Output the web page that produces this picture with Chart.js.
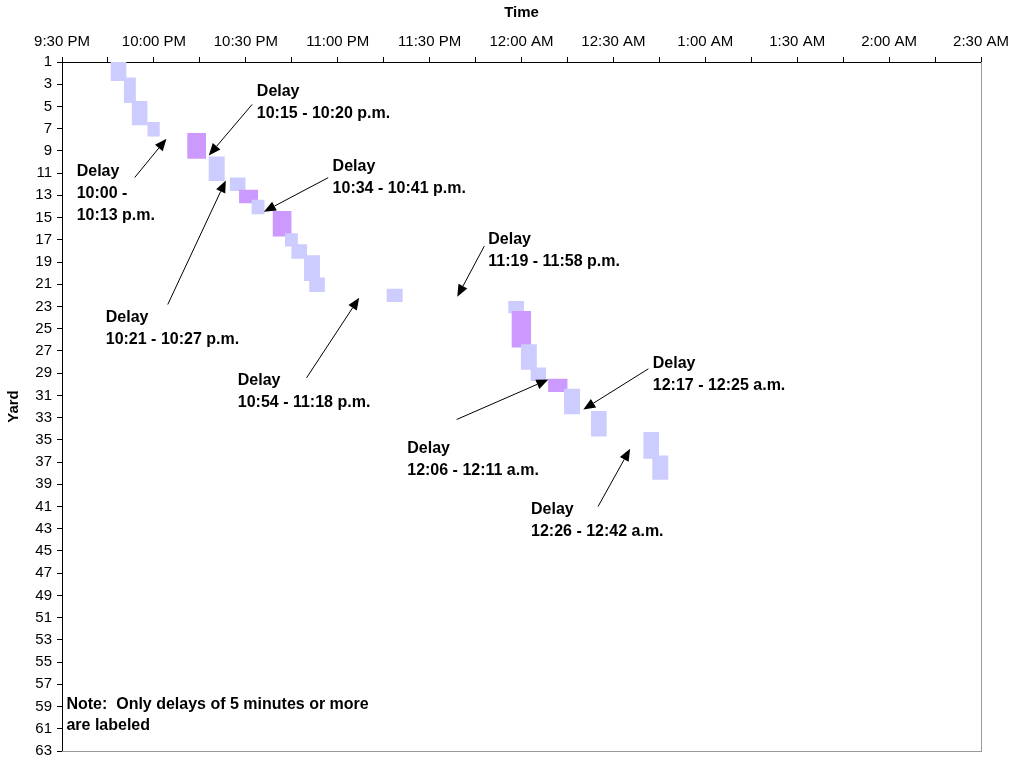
<!DOCTYPE html>
<html><head><meta charset="utf-8">
<script src="https://cdn.jsdelivr.net/npm/chart.js@4/dist/chart.umd.min.js"></script>
<style>html,body{margin:0;padding:0;background:#fff}#wrap{width:1013px;height:761px;position:relative}</style>
</head><body><div id="wrap"><canvas id="c"></canvas></div>
<script>
// ---- data (minutes after 9:30 PM, yard positions) ----
const timeTickLabels = ['9:30 PM','10:00 PM','10:30 PM','11:00 PM','11:30 PM','12:00 AM','12:30 AM','1:00 AM','1:30 AM','2:00 AM','2:30 AM'];
const timeTickMinutes = [0,15,30,45,60,75,90,105,120,135,150,165,180,195,210,225,240,255,270,285,300];
const yardTicks = [1,3,5,7,9,11,13,15,17,19,21,23,25,27,29,31,33,35,37,39,41,43,45,47,49,51,53,55,57,59,61,63];
const startMin = [15.9,20.2,22.8,27.9,40.9,47.9,54.8,57.8,61.9,68.8,72.8,74.9,79.0,80.7,106.0,145.7,146.8,149.8,153.0,158.7,163.9,172.7,189.8,192.7];
const endMin   = [21.0,24.1,27.9,31.9,47.0,53.1,59.9,64.0,66.1,74.9,77.0,80.0,84.2,85.8,111.2,150.8,153.1,155.0,158.0,165.0,169.1,177.8,194.9,197.9];
const yardFrom = [0.4,2.4,4.5,6.4,7.4,9.5,11.4,12.5,13.4,14.4,16.4,17.4,18.4,20.4,21.4,22.5,23.4,26.4,28.5,29.5,30.4,32.4,34.3,36.4];
const yardTo   = [2.7,4.7,6.7,7.7,9.7,11.7,12.6,13.7,14.7,16.7,17.6,18.7,20.7,21.7,22.6,23.6,26.7,28.7,29.7,30.7,32.7,34.7,36.7,38.6];
const isDelay  = [0,0,0,0,1,0,0,1,0,1,0,0,0,0,0,0,1,0,0,1,0,0,0,0];
const labelTexts = [
  ['Delay','10:00 -','10:13 p.m.'],
  ['Delay','10:15 - 10:20 p.m.'],
  ['Delay','10:34 - 10:41 p.m.'],
  ['Delay','10:21 - 10:27 p.m.'],
  ['Delay','10:54 - 11:18 p.m.'],
  ['Delay','11:19 - 11:58 p.m.'],
  ['Delay','12:06 - 12:11 a.m.'],
  ['Delay','12:17 - 12:25 a.m.'],
  ['Delay','12:26 - 12:42 a.m.']
];
const noteText = ['Note:  Only delays of 5 minutes or more','are labeled'];

// ---- annotation placement (data units: minutes, yards) ----
const labelAt = [[4.8,11.27],[63.6,4.07],[88.33,10.82],[14.28,24.44],[57.39,30.11],[139.16,17.35],[112.7,36.17],[192.86,28.52],[153.11,41.63]];
const arrowFrom = [[23.75,11.39],[62.07,4.82],[86.89,11.41],[34.53,22.82],[79.84,29.42],[137.85,17.57],[128.83,33.17],[191.42,28.61],[174.99,41.0]];
const arrowTo = [[34.10,7.90],[47.92,9.41],[65.89,14.47],[53.47,11.66],[97.02,22.22],[129.03,22.13],[158.76,29.57],[170.19,32.27],[185.45,35.81]];
const noteAt = [1.44,59.21];

const LIGHT = '#CCCCFF', PURPLE = '#CC99FF';
const FONT = '"Liberation Sans", Arial, sans-serif';

const datasets = startMin.map((s,i)=>({
  data:[{x:s,y:yardFrom[i]},{x:endMin[i],y:yardFrom[i]},{x:endMin[i],y:yardTo[i]},{x:s,y:yardTo[i]},{x:s,y:yardFrom[i]}],
  showLine:true, fill:'shape', borderWidth:0, pointRadius:0, pointHoverRadius:0,
  backgroundColor: isDelay[i]?PURPLE:LIGHT, borderColor: isDelay[i]?PURPLE:LIGHT,
  tension:0, clip:false, order: -i
}));

const annotPlugin = {
  id:'annot',
  afterDatasetsDraw(chart){
    const ctx = chart.ctx, xs = chart.scales.x, ys = chart.scales.y;
    ctx.save();
    ctx.fillStyle = '#000'; ctx.strokeStyle = '#000';
    ctx.font = 'bold 16px ' + FONT;
    ctx.textBaseline = 'alphabetic'; ctx.textAlign = 'left';
    labelTexts.forEach((lines,i)=>{
      const px = xs.getPixelForValue(labelAt[i][0]), py = ys.getPixelForValue(labelAt[i][1]);
      lines.forEach((t,k)=>ctx.fillText(t, px, py + k*22));
      const x1 = xs.getPixelForValue(arrowFrom[i][0]), y1 = ys.getPixelForValue(arrowFrom[i][1]);
      const x2 = xs.getPixelForValue(arrowTo[i][0]), y2 = ys.getPixelForValue(arrowTo[i][1]);
      const ang = Math.atan2(y2-y1, x2-x1), L = 12, W = 5;
      const bx = x2 - L*Math.cos(ang), by = y2 - L*Math.sin(ang);
      ctx.lineWidth = 1;
      ctx.beginPath(); ctx.moveTo(x1,y1); ctx.lineTo(bx,by); ctx.stroke();
      ctx.beginPath(); ctx.moveTo(x2,y2);
      ctx.lineTo(bx + W*Math.sin(ang), by - W*Math.cos(ang));
      ctx.lineTo(bx - W*Math.sin(ang), by + W*Math.cos(ang));
      ctx.closePath(); ctx.fill();
    });
    const nx = xs.getPixelForValue(noteAt[0]), ny = ys.getPixelForValue(noteAt[1]);
    noteText.forEach((t,k)=>ctx.fillText(t, nx, ny + k*21));
    ctx.restore();
  }
};

const noPad = s => { s.paddingLeft = 0; s.paddingRight = 0; s.paddingTop = 0; s.paddingBottom = 0; };

new Chart(document.getElementById('c'), {
  type:'scatter',
  data:{datasets},
  plugins:[annotPlugin],
  options:{
    responsive:true, maintainAspectRatio:false, animation:false,
    layout:{padding:{left:0,top:0,right:32,bottom:10}},
    plugins:{legend:{display:false}, tooltip:{enabled:false}},
    events:[],
    scales:{
      x:{type:'linear', position:'top', min:0, max:300,
        afterBuildTicks:s=>{s.ticks = timeTickMinutes.map(v=>({value:v}));},
        afterFit:s=>{s.height = 62; noPad(s);},
        ticks:{autoSkip:false, maxRotation:0, color:'#000', padding:6,
          font:{family:FONT, size:15},
          callback:v=> (v%30===0 ? timeTickLabels[v/30] : '')},
        grid:{drawOnChartArea:false, drawTicks:true, tickLength:5, color:'#000'},
        border:{color:'#000', width:1},
        title:{display:true, text:'Time', color:'#000', font:{family:FONT, size:15, weight:'bold'}, padding:{top:4,bottom:0}}
      },
      y:{type:'linear', position:'left', reverse:true, min:1, max:63,
        afterBuildTicks:s=>{s.ticks = yardTicks.map(v=>({value:v}));},
        afterFit:s=>{s.width = 62; noPad(s);},
        ticks:{autoSkip:false, color:'#000', padding:5, font:{family:FONT, size:15}},
        grid:{drawOnChartArea:false, drawTicks:true, tickLength:5, color:'#000'},
        border:{color:'#000', width:1},
        title:{display:true, text:'Yard', color:'#000', font:{family:FONT, size:15, weight:'bold'}, padding:{top:5,bottom:0}}
      },
      x2:{type:'linear', position:'bottom', min:0, max:300,
        afterFit:s=>{s.height = 0; noPad(s);},
        ticks:{display:false}, grid:{drawOnChartArea:false, drawTicks:false},
        border:{color:'#999', width:1}
      },
      y2:{type:'linear', position:'right', min:1, max:63,
        afterFit:s=>{s.width = 0; noPad(s);},
        ticks:{display:false}, grid:{drawOnChartArea:false, drawTicks:false},
        border:{color:'#999', width:1}
      }
    }
  }
});
</script></body></html>
